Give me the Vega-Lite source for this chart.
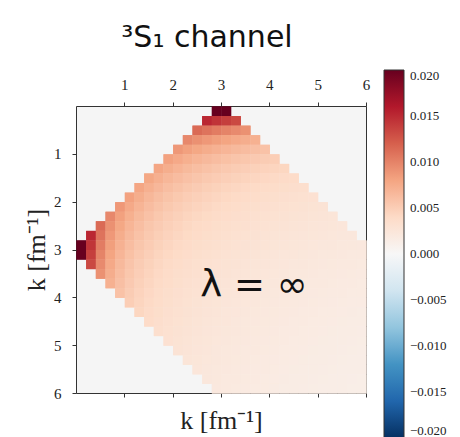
{
  "$schema": "https://vega.github.io/schema/vega-lite/v6.json",
  "width": 290,
  "height": 287,
  "autosize": {"type": "none"},
  "padding": {"left": 76, "top": 106, "right": 94, "bottom": 44},
  "background": "white",
  "title": {"text": "³S₁ channel", "font": "DejaVu Sans", "fontSize": 30, "fontWeight": "normal", "color": "#111", "anchor": "middle", "dx": -14, "offset": 17},
  "config": {
    "view": {"fill": "#f5f5f5", "stroke": "#333", "strokeWidth": 1},
    "rect": {"binSpacing": 0},
    "axis": {"domain": false, "grid": false, "ticks": true, "tickColor": "#333", "tickSize": 4, "tickWidth": 1, "labelFont": "Liberation Serif", "labelFontSize": 15, "labelColor": "#222", "labelFlush": false, "format": "d", "titleFont": "Liberation Serif", "titleFontSize": 26, "titleFontWeight": "normal", "titleColor": "#222"}
  },
  "data": {"values": [
    {"x":2.8,"y":0,"v":0.02953},{"x":3,"y":0,"v":0.02828},
    {"x":2.6,"y":0.2,"v":0.01515},{"x":2.8,"y":0.2,"v":0.01446},{"x":3,"y":0.2,"v":0.01385},{"x":3.2,"y":0.2,"v":0.0133},
    {"x":2.4,"y":0.4,"v":0.01143},{"x":2.6,"y":0.4,"v":0.01087},{"x":2.8,"y":0.4,"v":0.01038},{"x":3,"y":0.4,"v":0.00994},{"x":3.2,"y":0.4,"v":0.00954},{"x":3.4,"y":0.4,"v":0.00918},
    {"x":2.2,"y":0.6,"v":0.00969},{"x":2.4,"y":0.6,"v":0.00918},{"x":2.6,"y":0.6,"v":0.00873},{"x":2.8,"y":0.6,"v":0.00834},{"x":3,"y":0.6,"v":0.00799},{"x":3.2,"y":0.6,"v":0.00767},{"x":3.4,"y":0.6,"v":0.00738},{"x":3.6,"y":0.6,"v":0.00712},
    {"x":2,"y":0.8,"v":0.00874},{"x":2.2,"y":0.8,"v":0.00823},{"x":2.4,"y":0.8,"v":0.0078},{"x":2.6,"y":0.8,"v":0.00742},{"x":2.8,"y":0.8,"v":0.00708},{"x":3,"y":0.8,"v":0.00678},{"x":3.2,"y":0.8,"v":0.00651},{"x":3.4,"y":0.8,"v":0.00627},{"x":3.6,"y":0.8,"v":0.00604},{"x":3.8,"y":0.8,"v":0.00584},
    {"x":1.8,"y":1,"v":0.00818},{"x":2,"y":1,"v":0.00767},{"x":2.2,"y":1,"v":0.00722},{"x":2.4,"y":1,"v":0.00684},{"x":2.6,"y":1,"v":0.00651},{"x":2.8,"y":1,"v":0.00621},{"x":3,"y":1,"v":0.00595},{"x":3.2,"y":1,"v":0.00571},{"x":3.4,"y":1,"v":0.0055},{"x":3.6,"y":1,"v":0.0053},{"x":3.8,"y":1,"v":0.00513},{"x":4,"y":1,"v":0.00496},
    {"x":1.6,"y":1.2,"v":0.00789},{"x":1.8,"y":1.2,"v":0.00734},{"x":2,"y":1.2,"v":0.00688},{"x":2.2,"y":1.2,"v":0.00648},{"x":2.4,"y":1.2,"v":0.00614},{"x":2.6,"y":1.2,"v":0.00584},{"x":2.8,"y":1.2,"v":0.00558},{"x":3,"y":1.2,"v":0.00534},{"x":3.2,"y":1.2,"v":0.00513},{"x":3.4,"y":1.2,"v":0.00493},{"x":3.6,"y":1.2,"v":0.00476},{"x":3.8,"y":1.2,"v":0.0046},{"x":4,"y":1.2,"v":0.00445},{"x":4.2,"y":1.2,"v":0.00432},
    {"x":1.4,"y":1.4,"v":0.0078},{"x":1.6,"y":1.4,"v":0.00719},{"x":1.8,"y":1.4,"v":0.00669},{"x":2,"y":1.4,"v":0.00627},{"x":2.2,"y":1.4,"v":0.00591},{"x":2.4,"y":1.4,"v":0.0056},{"x":2.6,"y":1.4,"v":0.00532},{"x":2.8,"y":1.4,"v":0.00508},{"x":3,"y":1.4,"v":0.00487},{"x":3.2,"y":1.4,"v":0.00467},{"x":3.4,"y":1.4,"v":0.0045},{"x":3.6,"y":1.4,"v":0.00434},{"x":3.8,"y":1.4,"v":0.00419},{"x":4,"y":1.4,"v":0.00406},{"x":4.2,"y":1.4,"v":0.00393},{"x":4.4,"y":1.4,"v":0.00382},
    {"x":1.2,"y":1.6,"v":0.00789},{"x":1.4,"y":1.6,"v":0.00719},{"x":1.6,"y":1.6,"v":0.00663},{"x":1.8,"y":1.6,"v":0.00617},{"x":2,"y":1.6,"v":0.00578},{"x":2.2,"y":1.6,"v":0.00544},{"x":2.4,"y":1.6,"v":0.00516},{"x":2.6,"y":1.6,"v":0.00491},{"x":2.8,"y":1.6,"v":0.00468},{"x":3,"y":1.6,"v":0.00448},{"x":3.2,"y":1.6,"v":0.00431},{"x":3.4,"y":1.6,"v":0.00414},{"x":3.6,"y":1.6,"v":0.004},{"x":3.8,"y":1.6,"v":0.00386},{"x":4,"y":1.6,"v":0.00374},{"x":4.2,"y":1.6,"v":0.00363},{"x":4.4,"y":1.6,"v":0.00352},{"x":4.6,"y":1.6,"v":0.00342},
    {"x":1,"y":1.8,"v":0.00818},{"x":1.2,"y":1.8,"v":0.00734},{"x":1.4,"y":1.8,"v":0.00669},{"x":1.6,"y":1.8,"v":0.00617},{"x":1.8,"y":1.8,"v":0.00574},{"x":2,"y":1.8,"v":0.00537},{"x":2.2,"y":1.8,"v":0.00506},{"x":2.4,"y":1.8,"v":0.0048},{"x":2.6,"y":1.8,"v":0.00456},{"x":2.8,"y":1.8,"v":0.00436},{"x":3,"y":1.8,"v":0.00417},{"x":3.2,"y":1.8,"v":0.00401},{"x":3.4,"y":1.8,"v":0.00386},{"x":3.6,"y":1.8,"v":0.00372},{"x":3.8,"y":1.8,"v":0.00359},{"x":4,"y":1.8,"v":0.00348},{"x":4.2,"y":1.8,"v":0.00337},{"x":4.4,"y":1.8,"v":0.00327},{"x":4.6,"y":1.8,"v":0.00318},{"x":4.8,"y":1.8,"v":0.0031},
    {"x":0.8,"y":2,"v":0.00873},{"x":1,"y":2,"v":0.00767},{"x":1.2,"y":2,"v":0.00688},{"x":1.4,"y":2,"v":0.00627},{"x":1.6,"y":2,"v":0.00578},{"x":1.8,"y":2,"v":0.00537},{"x":2,"y":2,"v":0.00504},{"x":2.2,"y":2,"v":0.00475},{"x":2.4,"y":2,"v":0.0045},{"x":2.6,"y":2,"v":0.00428},{"x":2.8,"y":2,"v":0.00408},{"x":3,"y":2,"v":0.00391},{"x":3.2,"y":2,"v":0.00375},{"x":3.4,"y":2,"v":0.00361},{"x":3.6,"y":2,"v":0.00348},{"x":3.8,"y":2,"v":0.00337},{"x":4,"y":2,"v":0.00326},{"x":4.2,"y":2,"v":0.00316},{"x":4.4,"y":2,"v":0.00307},{"x":4.6,"y":2,"v":0.00298},{"x":4.8,"y":2,"v":0.0029},{"x":5,"y":2,"v":0.00283},
    {"x":0.6,"y":2.2,"v":0.00969},{"x":0.8,"y":2.2,"v":0.00823},{"x":1,"y":2.2,"v":0.00722},{"x":1.2,"y":2.2,"v":0.00648},{"x":1.4,"y":2.2,"v":0.00591},{"x":1.6,"y":2.2,"v":0.00544},{"x":1.8,"y":2.2,"v":0.00506},{"x":2,"y":2.2,"v":0.00475},{"x":2.2,"y":2.2,"v":0.00447},{"x":2.4,"y":2.2,"v":0.00424},{"x":2.6,"y":2.2,"v":0.00403},{"x":2.8,"y":2.2,"v":0.00385},{"x":3,"y":2.2,"v":0.00368},{"x":3.2,"y":2.2,"v":0.00354},{"x":3.4,"y":2.2,"v":0.0034},{"x":3.6,"y":2.2,"v":0.00328},{"x":3.8,"y":2.2,"v":0.00317},{"x":4,"y":2.2,"v":0.00307},{"x":4.2,"y":2.2,"v":0.00298},{"x":4.4,"y":2.2,"v":0.00289},{"x":4.6,"y":2.2,"v":0.00281},{"x":4.8,"y":2.2,"v":0.00274},{"x":5,"y":2.2,"v":0.00267},{"x":5.2,"y":2.2,"v":0.0026},
    {"x":0.4,"y":2.4,"v":0.01142},{"x":0.6,"y":2.4,"v":0.00918},{"x":0.8,"y":2.4,"v":0.0078},{"x":1,"y":2.4,"v":0.00684},{"x":1.2,"y":2.4,"v":0.00614},{"x":1.4,"y":2.4,"v":0.00559},{"x":1.6,"y":2.4,"v":0.00516},{"x":1.8,"y":2.4,"v":0.0048},{"x":2,"y":2.4,"v":0.0045},{"x":2.2,"y":2.4,"v":0.00424},{"x":2.4,"y":2.4,"v":0.00401},{"x":2.6,"y":2.4,"v":0.00382},{"x":2.8,"y":2.4,"v":0.00364},{"x":3,"y":2.4,"v":0.00349},{"x":3.2,"y":2.4,"v":0.00335},{"x":3.4,"y":2.4,"v":0.00322},{"x":3.6,"y":2.4,"v":0.00311},{"x":3.8,"y":2.4,"v":0.00301},{"x":4,"y":2.4,"v":0.00291},{"x":4.2,"y":2.4,"v":0.00282},{"x":4.4,"y":2.4,"v":0.00274},{"x":4.6,"y":2.4,"v":0.00266},{"x":4.8,"y":2.4,"v":0.00259},{"x":5,"y":2.4,"v":0.00253},{"x":5.2,"y":2.4,"v":0.00246},{"x":5.4,"y":2.4,"v":0.0024},
    {"x":0.2,"y":2.6,"v":0.01515},{"x":0.4,"y":2.6,"v":0.01087},{"x":0.6,"y":2.6,"v":0.00873},{"x":0.8,"y":2.6,"v":0.00742},{"x":1,"y":2.6,"v":0.00651},{"x":1.2,"y":2.6,"v":0.00584},{"x":1.4,"y":2.6,"v":0.00532},{"x":1.6,"y":2.6,"v":0.00491},{"x":1.8,"y":2.6,"v":0.00456},{"x":2,"y":2.6,"v":0.00428},{"x":2.2,"y":2.6,"v":0.00403},{"x":2.4,"y":2.6,"v":0.00382},{"x":2.6,"y":2.6,"v":0.00363},{"x":2.8,"y":2.6,"v":0.00347},{"x":3,"y":2.6,"v":0.00332},{"x":3.2,"y":2.6,"v":0.00319},{"x":3.4,"y":2.6,"v":0.00307},{"x":3.6,"y":2.6,"v":0.00296},{"x":3.8,"y":2.6,"v":0.00286},{"x":4,"y":2.6,"v":0.00277},{"x":4.2,"y":2.6,"v":0.00268},{"x":4.4,"y":2.6,"v":0.00261},{"x":4.6,"y":2.6,"v":0.00253},{"x":4.8,"y":2.6,"v":0.00246},{"x":5,"y":2.6,"v":0.0024},{"x":5.2,"y":2.6,"v":0.00234},{"x":5.4,"y":2.6,"v":0.00229},{"x":5.6,"y":2.6,"v":0.00223},
    {"x":0,"y":2.8,"v":0.02954},{"x":0.2,"y":2.8,"v":0.01446},{"x":0.4,"y":2.8,"v":0.01037},{"x":0.6,"y":2.8,"v":0.00834},{"x":0.8,"y":2.8,"v":0.00708},{"x":1,"y":2.8,"v":0.00621},{"x":1.2,"y":2.8,"v":0.00558},{"x":1.4,"y":2.8,"v":0.00508},{"x":1.6,"y":2.8,"v":0.00468},{"x":1.8,"y":2.8,"v":0.00436},{"x":2,"y":2.8,"v":0.00408},{"x":2.2,"y":2.8,"v":0.00385},{"x":2.4,"y":2.8,"v":0.00364},{"x":2.6,"y":2.8,"v":0.00347},{"x":2.8,"y":2.8,"v":0.00331},{"x":3,"y":2.8,"v":0.00317},{"x":3.2,"y":2.8,"v":0.00304},{"x":3.4,"y":2.8,"v":0.00293},{"x":3.6,"y":2.8,"v":0.00282},{"x":3.8,"y":2.8,"v":0.00273},{"x":4,"y":2.8,"v":0.00264},{"x":4.2,"y":2.8,"v":0.00256},{"x":4.4,"y":2.8,"v":0.00249},{"x":4.6,"y":2.8,"v":0.00242},{"x":4.8,"y":2.8,"v":0.00235},{"x":5,"y":2.8,"v":0.00229},{"x":5.2,"y":2.8,"v":0.00224},{"x":5.4,"y":2.8,"v":0.00218},{"x":5.6,"y":2.8,"v":0.00213},{"x":5.8,"y":2.8,"v":0.00209},
    {"x":0,"y":3,"v":0.02829},{"x":0.2,"y":3,"v":0.01385},{"x":0.4,"y":3,"v":0.00994},{"x":0.6,"y":3,"v":0.00798},{"x":0.8,"y":3,"v":0.00678},{"x":1,"y":3,"v":0.00595},{"x":1.2,"y":3,"v":0.00534},{"x":1.4,"y":3,"v":0.00487},{"x":1.6,"y":3,"v":0.00448},{"x":1.8,"y":3,"v":0.00417},{"x":2,"y":3,"v":0.00391},{"x":2.2,"y":3,"v":0.00368},{"x":2.4,"y":3,"v":0.00349},{"x":2.6,"y":3,"v":0.00332},{"x":2.8,"y":3,"v":0.00317},{"x":3,"y":3,"v":0.00303},{"x":3.2,"y":3,"v":0.00291},{"x":3.4,"y":3,"v":0.0028},{"x":3.6,"y":3,"v":0.00271},{"x":3.8,"y":3,"v":0.00261},{"x":4,"y":3,"v":0.00253},{"x":4.2,"y":3,"v":0.00245},{"x":4.4,"y":3,"v":0.00238},{"x":4.6,"y":3,"v":0.00232},{"x":4.8,"y":3,"v":0.00225},{"x":5,"y":3,"v":0.0022},{"x":5.2,"y":3,"v":0.00214},{"x":5.4,"y":3,"v":0.00209},{"x":5.6,"y":3,"v":0.00204},{"x":5.8,"y":3,"v":0.002},
    {"x":0.2,"y":3.2,"v":0.01329},{"x":0.4,"y":3.2,"v":0.00954},{"x":0.6,"y":3.2,"v":0.00767},{"x":0.8,"y":3.2,"v":0.00651},{"x":1,"y":3.2,"v":0.00571},{"x":1.2,"y":3.2,"v":0.00513},{"x":1.4,"y":3.2,"v":0.00467},{"x":1.6,"y":3.2,"v":0.00431},{"x":1.8,"y":3.2,"v":0.00401},{"x":2,"y":3.2,"v":0.00375},{"x":2.2,"y":3.2,"v":0.00354},{"x":2.4,"y":3.2,"v":0.00335},{"x":2.6,"y":3.2,"v":0.00319},{"x":2.8,"y":3.2,"v":0.00304},{"x":3,"y":3.2,"v":0.00291},{"x":3.2,"y":3.2,"v":0.0028},{"x":3.4,"y":3.2,"v":0.00269},{"x":3.6,"y":3.2,"v":0.0026},{"x":3.8,"y":3.2,"v":0.00251},{"x":4,"y":3.2,"v":0.00243},{"x":4.2,"y":3.2,"v":0.00236},{"x":4.4,"y":3.2,"v":0.00229},{"x":4.6,"y":3.2,"v":0.00222},{"x":4.8,"y":3.2,"v":0.00216},{"x":5,"y":3.2,"v":0.00211},{"x":5.2,"y":3.2,"v":0.00206},{"x":5.4,"y":3.2,"v":0.00201},{"x":5.6,"y":3.2,"v":0.00196},{"x":5.8,"y":3.2,"v":0.00192},
    {"x":0.4,"y":3.4,"v":0.00918},{"x":0.6,"y":3.4,"v":0.00738},{"x":0.8,"y":3.4,"v":0.00627},{"x":1,"y":3.4,"v":0.0055},{"x":1.2,"y":3.4,"v":0.00493},{"x":1.4,"y":3.4,"v":0.0045},{"x":1.6,"y":3.4,"v":0.00414},{"x":1.8,"y":3.4,"v":0.00386},{"x":2,"y":3.4,"v":0.00361},{"x":2.2,"y":3.4,"v":0.0034},{"x":2.4,"y":3.4,"v":0.00323},{"x":2.6,"y":3.4,"v":0.00307},{"x":2.8,"y":3.4,"v":0.00293},{"x":3,"y":3.4,"v":0.0028},{"x":3.2,"y":3.4,"v":0.00269},{"x":3.4,"y":3.4,"v":0.00259},{"x":3.6,"y":3.4,"v":0.0025},{"x":3.8,"y":3.4,"v":0.00242},{"x":4,"y":3.4,"v":0.00234},{"x":4.2,"y":3.4,"v":0.00227},{"x":4.4,"y":3.4,"v":0.0022},{"x":4.6,"y":3.4,"v":0.00214},{"x":4.8,"y":3.4,"v":0.00208},{"x":5,"y":3.4,"v":0.00203},{"x":5.2,"y":3.4,"v":0.00198},{"x":5.4,"y":3.4,"v":0.00193},{"x":5.6,"y":3.4,"v":0.00189},{"x":5.8,"y":3.4,"v":0.00185},
    {"x":0.6,"y":3.6,"v":0.00712},{"x":0.8,"y":3.6,"v":0.00604},{"x":1,"y":3.6,"v":0.0053},{"x":1.2,"y":3.6,"v":0.00476},{"x":1.4,"y":3.6,"v":0.00434},{"x":1.6,"y":3.6,"v":0.004},{"x":1.8,"y":3.6,"v":0.00372},{"x":2,"y":3.6,"v":0.00348},{"x":2.2,"y":3.6,"v":0.00328},{"x":2.4,"y":3.6,"v":0.00311},{"x":2.6,"y":3.6,"v":0.00296},{"x":2.8,"y":3.6,"v":0.00282},{"x":3,"y":3.6,"v":0.0027},{"x":3.2,"y":3.6,"v":0.0026},{"x":3.4,"y":3.6,"v":0.0025},{"x":3.6,"y":3.6,"v":0.00241},{"x":3.8,"y":3.6,"v":0.00233},{"x":4,"y":3.6,"v":0.00225},{"x":4.2,"y":3.6,"v":0.00219},{"x":4.4,"y":3.6,"v":0.00212},{"x":4.6,"y":3.6,"v":0.00206},{"x":4.8,"y":3.6,"v":0.00201},{"x":5,"y":3.6,"v":0.00196},{"x":5.2,"y":3.6,"v":0.00191},{"x":5.4,"y":3.6,"v":0.00186},{"x":5.6,"y":3.6,"v":0.00182},{"x":5.8,"y":3.6,"v":0.00178},
    {"x":0.8,"y":3.8,"v":0.00584},{"x":1,"y":3.8,"v":0.00513},{"x":1.2,"y":3.8,"v":0.0046},{"x":1.4,"y":3.8,"v":0.00419},{"x":1.6,"y":3.8,"v":0.00386},{"x":1.8,"y":3.8,"v":0.00359},{"x":2,"y":3.8,"v":0.00337},{"x":2.2,"y":3.8,"v":0.00317},{"x":2.4,"y":3.8,"v":0.00301},{"x":2.6,"y":3.8,"v":0.00286},{"x":2.8,"y":3.8,"v":0.00273},{"x":3,"y":3.8,"v":0.00261},{"x":3.2,"y":3.8,"v":0.00251},{"x":3.4,"y":3.8,"v":0.00242},{"x":3.6,"y":3.8,"v":0.00233},{"x":3.8,"y":3.8,"v":0.00225},{"x":4,"y":3.8,"v":0.00218},{"x":4.2,"y":3.8,"v":0.00211},{"x":4.4,"y":3.8,"v":0.00205},{"x":4.6,"y":3.8,"v":0.00199},{"x":4.8,"y":3.8,"v":0.00194},{"x":5,"y":3.8,"v":0.00189},{"x":5.2,"y":3.8,"v":0.00184},{"x":5.4,"y":3.8,"v":0.0018},{"x":5.6,"y":3.8,"v":0.00176},{"x":5.8,"y":3.8,"v":0.00172},
    {"x":1,"y":4,"v":0.00496},{"x":1.2,"y":4,"v":0.00445},{"x":1.4,"y":4,"v":0.00406},{"x":1.6,"y":4,"v":0.00374},{"x":1.8,"y":4,"v":0.00348},{"x":2,"y":4,"v":0.00326},{"x":2.2,"y":4,"v":0.00307},{"x":2.4,"y":4,"v":0.00291},{"x":2.6,"y":4,"v":0.00277},{"x":2.8,"y":4,"v":0.00264},{"x":3,"y":4,"v":0.00253},{"x":3.2,"y":4,"v":0.00243},{"x":3.4,"y":4,"v":0.00234},{"x":3.6,"y":4,"v":0.00226},{"x":3.8,"y":4,"v":0.00218},{"x":4,"y":4,"v":0.00211},{"x":4.2,"y":4,"v":0.00205},{"x":4.4,"y":4,"v":0.00199},{"x":4.6,"y":4,"v":0.00193},{"x":4.8,"y":4,"v":0.00188},{"x":5,"y":4,"v":0.00183},{"x":5.2,"y":4,"v":0.00179},{"x":5.4,"y":4,"v":0.00174},{"x":5.6,"y":4,"v":0.0017},{"x":5.8,"y":4,"v":0.00167},
    {"x":1.2,"y":4.2,"v":0.00432},{"x":1.4,"y":4.2,"v":0.00393},{"x":1.6,"y":4.2,"v":0.00363},{"x":1.8,"y":4.2,"v":0.00337},{"x":2,"y":4.2,"v":0.00316},{"x":2.2,"y":4.2,"v":0.00298},{"x":2.4,"y":4.2,"v":0.00282},{"x":2.6,"y":4.2,"v":0.00268},{"x":2.8,"y":4.2,"v":0.00256},{"x":3,"y":4.2,"v":0.00245},{"x":3.2,"y":4.2,"v":0.00236},{"x":3.4,"y":4.2,"v":0.00227},{"x":3.6,"y":4.2,"v":0.00219},{"x":3.8,"y":4.2,"v":0.00211},{"x":4,"y":4.2,"v":0.00205},{"x":4.2,"y":4.2,"v":0.00198},{"x":4.4,"y":4.2,"v":0.00193},{"x":4.6,"y":4.2,"v":0.00187},{"x":4.8,"y":4.2,"v":0.00182},{"x":5,"y":4.2,"v":0.00178},{"x":5.2,"y":4.2,"v":0.00173},{"x":5.4,"y":4.2,"v":0.00169},{"x":5.6,"y":4.2,"v":0.00165},{"x":5.8,"y":4.2,"v":0.00161},
    {"x":1.4,"y":4.4,"v":0.00382},{"x":1.6,"y":4.4,"v":0.00352},{"x":1.8,"y":4.4,"v":0.00327},{"x":2,"y":4.4,"v":0.00307},{"x":2.2,"y":4.4,"v":0.00289},{"x":2.4,"y":4.4,"v":0.00274},{"x":2.6,"y":4.4,"v":0.00261},{"x":2.8,"y":4.4,"v":0.00249},{"x":3,"y":4.4,"v":0.00238},{"x":3.2,"y":4.4,"v":0.00229},{"x":3.4,"y":4.4,"v":0.0022},{"x":3.6,"y":4.4,"v":0.00212},{"x":3.8,"y":4.4,"v":0.00205},{"x":4,"y":4.4,"v":0.00199},{"x":4.2,"y":4.4,"v":0.00193},{"x":4.4,"y":4.4,"v":0.00187},{"x":4.6,"y":4.4,"v":0.00182},{"x":4.8,"y":4.4,"v":0.00177},{"x":5,"y":4.4,"v":0.00172},{"x":5.2,"y":4.4,"v":0.00168},{"x":5.4,"y":4.4,"v":0.00164},{"x":5.6,"y":4.4,"v":0.0016},{"x":5.8,"y":4.4,"v":0.00157},
    {"x":1.6,"y":4.6,"v":0.00342},{"x":1.8,"y":4.6,"v":0.00318},{"x":2,"y":4.6,"v":0.00298},{"x":2.2,"y":4.6,"v":0.00281},{"x":2.4,"y":4.6,"v":0.00266},{"x":2.6,"y":4.6,"v":0.00253},{"x":2.8,"y":4.6,"v":0.00242},{"x":3,"y":4.6,"v":0.00232},{"x":3.2,"y":4.6,"v":0.00222},{"x":3.4,"y":4.6,"v":0.00214},{"x":3.6,"y":4.6,"v":0.00206},{"x":3.8,"y":4.6,"v":0.00199},{"x":4,"y":4.6,"v":0.00193},{"x":4.2,"y":4.6,"v":0.00187},{"x":4.4,"y":4.6,"v":0.00182},{"x":4.6,"y":4.6,"v":0.00177},{"x":4.8,"y":4.6,"v":0.00172},{"x":5,"y":4.6,"v":0.00168},{"x":5.2,"y":4.6,"v":0.00163},{"x":5.4,"y":4.6,"v":0.0016},{"x":5.6,"y":4.6,"v":0.00156},{"x":5.8,"y":4.6,"v":0.00152},
    {"x":1.8,"y":4.8,"v":0.0031},{"x":2,"y":4.8,"v":0.0029},{"x":2.2,"y":4.8,"v":0.00274},{"x":2.4,"y":4.8,"v":0.00259},{"x":2.6,"y":4.8,"v":0.00246},{"x":2.8,"y":4.8,"v":0.00235},{"x":3,"y":4.8,"v":0.00225},{"x":3.2,"y":4.8,"v":0.00216},{"x":3.4,"y":4.8,"v":0.00208},{"x":3.6,"y":4.8,"v":0.00201},{"x":3.8,"y":4.8,"v":0.00194},{"x":4,"y":4.8,"v":0.00188},{"x":4.2,"y":4.8,"v":0.00182},{"x":4.4,"y":4.8,"v":0.00177},{"x":4.6,"y":4.8,"v":0.00172},{"x":4.8,"y":4.8,"v":0.00167},{"x":5,"y":4.8,"v":0.00163},{"x":5.2,"y":4.8,"v":0.00159},{"x":5.4,"y":4.8,"v":0.00155},{"x":5.6,"y":4.8,"v":0.00152},{"x":5.8,"y":4.8,"v":0.00148},
    {"x":2,"y":5,"v":0.00283},{"x":2.2,"y":5,"v":0.00267},{"x":2.4,"y":5,"v":0.00253},{"x":2.6,"y":5,"v":0.0024},{"x":2.8,"y":5,"v":0.00229},{"x":3,"y":5,"v":0.0022},{"x":3.2,"y":5,"v":0.00211},{"x":3.4,"y":5,"v":0.00203},{"x":3.6,"y":5,"v":0.00196},{"x":3.8,"y":5,"v":0.00189},{"x":4,"y":5,"v":0.00183},{"x":4.2,"y":5,"v":0.00178},{"x":4.4,"y":5,"v":0.00172},{"x":4.6,"y":5,"v":0.00168},{"x":4.8,"y":5,"v":0.00163},{"x":5,"y":5,"v":0.00159},{"x":5.2,"y":5,"v":0.00155},{"x":5.4,"y":5,"v":0.00151},{"x":5.6,"y":5,"v":0.00148},{"x":5.8,"y":5,"v":0.00144},
    {"x":2.2,"y":5.2,"v":0.0026},{"x":2.4,"y":5.2,"v":0.00246},{"x":2.6,"y":5.2,"v":0.00234},{"x":2.8,"y":5.2,"v":0.00224},{"x":3,"y":5.2,"v":0.00214},{"x":3.2,"y":5.2,"v":0.00206},{"x":3.4,"y":5.2,"v":0.00198},{"x":3.6,"y":5.2,"v":0.00191},{"x":3.8,"y":5.2,"v":0.00184},{"x":4,"y":5.2,"v":0.00179},{"x":4.2,"y":5.2,"v":0.00173},{"x":4.4,"y":5.2,"v":0.00168},{"x":4.6,"y":5.2,"v":0.00163},{"x":4.8,"y":5.2,"v":0.00159},{"x":5,"y":5.2,"v":0.00155},{"x":5.2,"y":5.2,"v":0.00151},{"x":5.4,"y":5.2,"v":0.00148},{"x":5.6,"y":5.2,"v":0.00144},{"x":5.8,"y":5.2,"v":0.00141},
    {"x":2.4,"y":5.4,"v":0.0024},{"x":2.6,"y":5.4,"v":0.00229},{"x":2.8,"y":5.4,"v":0.00218},{"x":3,"y":5.4,"v":0.00209},{"x":3.2,"y":5.4,"v":0.00201},{"x":3.4,"y":5.4,"v":0.00193},{"x":3.6,"y":5.4,"v":0.00186},{"x":3.8,"y":5.4,"v":0.0018},{"x":4,"y":5.4,"v":0.00174},{"x":4.2,"y":5.4,"v":0.00169},{"x":4.4,"y":5.4,"v":0.00164},{"x":4.6,"y":5.4,"v":0.0016},{"x":4.8,"y":5.4,"v":0.00155},{"x":5,"y":5.4,"v":0.00151},{"x":5.2,"y":5.4,"v":0.00148},{"x":5.4,"y":5.4,"v":0.00144},{"x":5.6,"y":5.4,"v":0.00141},{"x":5.8,"y":5.4,"v":0.00138},
    {"x":2.6,"y":5.6,"v":0.00223},{"x":2.8,"y":5.6,"v":0.00213},{"x":3,"y":5.6,"v":0.00204},{"x":3.2,"y":5.6,"v":0.00196},{"x":3.4,"y":5.6,"v":0.00189},{"x":3.6,"y":5.6,"v":0.00182},{"x":3.8,"y":5.6,"v":0.00176},{"x":4,"y":5.6,"v":0.0017},{"x":4.2,"y":5.6,"v":0.00165},{"x":4.4,"y":5.6,"v":0.0016},{"x":4.6,"y":5.6,"v":0.00156},{"x":4.8,"y":5.6,"v":0.00152},{"x":5,"y":5.6,"v":0.00148},{"x":5.2,"y":5.6,"v":0.00144},{"x":5.4,"y":5.6,"v":0.00141},{"x":5.6,"y":5.6,"v":0.00137},{"x":5.8,"y":5.6,"v":0.00134},
    {"x":2.8,"y":5.8,"v":0.00209},{"x":3,"y":5.8,"v":0.002},{"x":3.2,"y":5.8,"v":0.00192},{"x":3.4,"y":5.8,"v":0.00185},{"x":3.6,"y":5.8,"v":0.00178},{"x":3.8,"y":5.8,"v":0.00172},{"x":4,"y":5.8,"v":0.00166},{"x":4.2,"y":5.8,"v":0.00161},{"x":4.4,"y":5.8,"v":0.00157},{"x":4.6,"y":5.8,"v":0.00152},{"x":4.8,"y":5.8,"v":0.00148},{"x":5,"y":5.8,"v":0.00144},{"x":5.2,"y":5.8,"v":0.00141},{"x":5.4,"y":5.8,"v":0.00138},{"x":5.6,"y":5.8,"v":0.00134},{"x":5.8,"y":5.8,"v":0.00131}
  ]},
  "layer": [
    {
      "mark": {"type": "rect", "binSpacing": 0},
      "encoding": {
        "x": {"field": "x", "type": "quantitative", "bin": {"binned": true, "step": 0.2},
              "scale": {"domain": [0, 6], "nice": false, "zero": false},
              "axis": {"orient": "top", "values": [1, 2, 3, 4, 5, 6], "labelPadding": 10, "title": null, "labelAngle": 0}},
        "y": {"field": "y", "type": "quantitative", "bin": {"binned": true, "step": 0.2},
              "scale": {"domain": [0, 6], "nice": false, "zero": false, "reverse": true},
              "axis": {"orient": "left", "values": [1, 2, 3, 4, 5, 6], "labelPadding": 11, "title": "k [fm⁻¹]", "titlePadding": 4}},
        "color": {"field": "v", "type": "quantitative",
                  "scale": {"domain": [-0.02, 0.02],
                            "range": ["#053061", "#2166ac", "#4393c3", "#92c5de", "#d1e5f0", "#f7f7f7", "#fddbc7", "#f4a582", "#d6604d", "#b2182b", "#67001f"],
                            "interpolate": "rgb", "clamp": true},
                  "legend": {"type": "gradient", "orient": "none", "legendX": 308, "legendY": -36, "direction": "vertical", "title": null,
                             "gradientLength": 368, "gradientThickness": 20,
                             "values": [0.02, 0.015, 0.01, 0.005, 0, -0.005, -0.01, -0.015, -0.02], "format": ".3f",
                             "labelFont": "Liberation Serif", "labelFontSize": 13, "labelColor": "#222", "labelOffset": 6,
                             "gradientStrokeColor": "#333", "gradientStrokeWidth": 1}}
      }
    },
    {
      "mark": {"type": "rect", "binSpacing": 0},
      "encoding": {
        "x": {"field": "x", "type": "quantitative", "bin": {"binned": true, "step": 0.2}, "axis": null},
        "y": {"field": "y", "type": "quantitative", "bin": {"binned": true, "step": 0.2},
              "axis": {"orient": "left", "values": [1, 2, 3, 4, 5, 6], "labelPadding": 11, "title": "k [fm⁻¹]", "titlePadding": 4}},
        "color": {"field": "v", "type": "quantitative",
                  "legend": {"type": "gradient", "orient": "none", "legendX": 308, "legendY": -36, "direction": "vertical", "title": null,
                             "gradientLength": 368, "gradientThickness": 20,
                             "values": [0.02, 0.015, 0.01, 0.005, 0, -0.005, -0.01, -0.015, -0.02], "format": ".3f",
                             "labelFont": "Liberation Serif", "labelFontSize": 13, "labelColor": "#222", "labelOffset": 6,
                             "gradientStrokeColor": "#333", "gradientStrokeWidth": 1}}
      }
    },
    {
      "data": {"values": [{"label": "λ = ∞"}]},
      "mark": {"type": "text", "font": "DejaVu Sans", "fontSize": 37, "align": "center", "baseline": "alphabetic", "color": "#111"},
      "encoding": {
        "x": {"datum": 3.68, "type": "quantitative",
              "axis": {"orient": "bottom", "values": [1, 2, 3, 4, 5, 6], "labels": false, "title": "k [fm⁻¹]", "titlePadding": 10}},
        "y": {"datum": 3.99, "type": "quantitative"},
        "text": {"field": "label"}
      }
    }
  ],
  "resolve": {"axis": {"x": "independent"}}
}
